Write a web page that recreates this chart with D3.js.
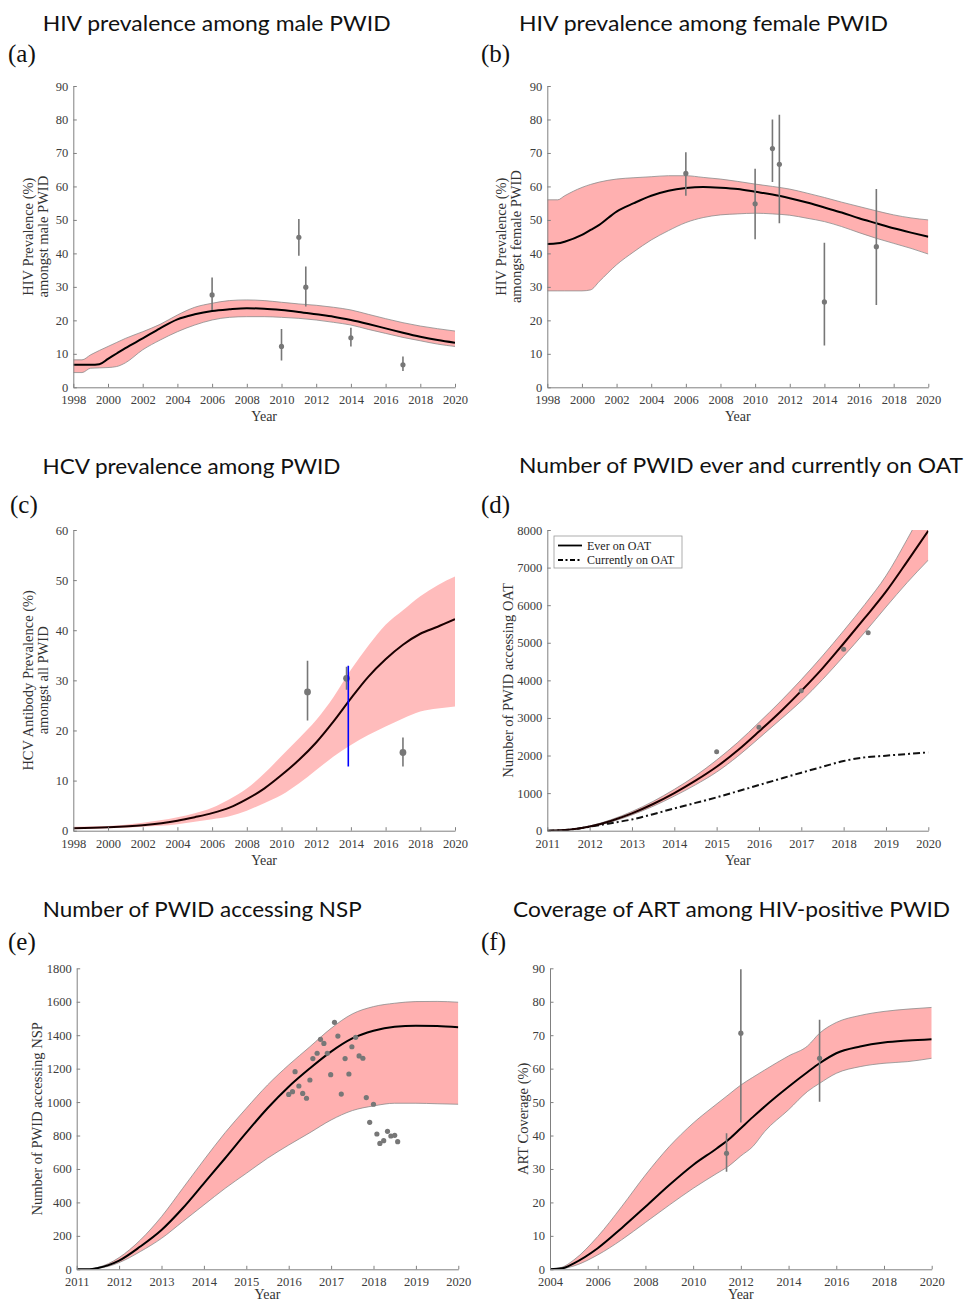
<!DOCTYPE html>
<html><head><meta charset="utf-8">
<script src="https://cdn.jsdelivr.net/npm/d3@7"></script>
<style>body{margin:0;background:#fff}
.tick text{font-family:'Liberation Serif','Times New Roman',serif !important;font-size:12.5px !important;fill:#3c3c3c}
</style>
</head><body><svg id="chart" width="967" height="1303"></svg>
<script>
// ---------- (a) HIV prevalence among male PWID ----------
const yearsA = [1998,1998.5,1999,1999.5,2000,2000.5,2001,2002,2003,2004,2005,2006,2007,2008,2009,2010,2011,2012,2013,2014,2015,2016,2017,2018,2019,2020];
const maleMid = [6.7,6.7,6.7,6.9,8.5,10.1,11.7,14.6,17.6,20.3,21.8,22.8,23.3,23.6,23.5,23.1,22.5,21.8,21.1,20.1,18.9,17.6,16.3,15.1,14.1,13.3];
const maleHi  = [8.2,8.2,9.7,11.0,12.2,13.4,14.6,16.6,18.8,21.6,23.9,25.1,25.9,26.1,25.9,25.4,24.9,24.5,23.9,23.1,21.8,20.5,19.3,18.3,17.5,16.8];
const maleLo  = [4.4,4.4,5.7,5.8,5.9,6.2,7.3,11.2,14.1,16.6,18.6,20.1,20.9,21.1,21.1,20.9,20.6,20.1,19.4,18.6,17.3,16.1,14.9,13.9,12.9,12.2];
const maleObsYear = [2006,2010,2011,2011.4,2014,2017];
const maleObsVal  = [27.6,12.2,44.8,29.9,14.8,6.7];
const maleObsLo   = [23.1,8.0,39.3,24.1,12.2,4.9];
const maleObsHi   = [32.8,17.4,50.3,36.1,17.8,9.2];

// ---------- (b) HIV prevalence among female PWID ----------
const yearsB = [1998,1998.6,1999,2000,2000.5,2001,2002,2003,2004,2005,2006,2007,2008,2009,2010,2011,2012,2013,2014,2015,2016,2017,2018,2019,2020];
const femaleMid = [42.8,43.0,43.5,45.5,47.0,48.5,52.5,55.0,57.2,58.7,59.5,59.8,59.6,59.2,58.4,57.6,56.5,55.2,53.7,52.2,50.5,49.0,47.5,46.2,45.0];
const femaleHi  = [56.0,56.0,57.2,59.7,60.6,61.3,62.2,62.6,62.9,63.2,63.2,62.7,62.2,61.5,60.7,60.0,59.2,58.0,56.7,55.3,54.0,52.7,51.5,50.6,50.0];
const femaleLo  = [28.8,28.8,28.8,28.8,29.1,31.6,36.6,40.5,44.0,46.8,49.2,50.7,51.5,51.8,52.0,51.8,51.4,50.5,49.5,48.0,46.2,44.5,43.0,41.5,39.8];
const femaleObsYear = [2006,2010,2011,2011.4,2014,2017];
const femaleObsVal  = [63.9,54.8,71.3,66.6,25.5,42.0];
const femaleObsLo   = [57.2,44.2,61.3,49.0,12.5,24.6];
const femaleObsHi   = [70.2,65.3,80.0,81.4,43.2,59.2];

// ---------- (c) HCV prevalence among PWID ----------
const yearsC = [1998,2000,2002,2004,2005,2006,2007,2008,2009,2010,2011,2012,2013,2014,2015,2016,2017,2018,2019,2020];
const hcvMid = [0.47,0.67,1.1,2.0,2.7,3.5,4.6,6.3,8.4,11.1,14.1,17.6,21.8,26.4,30.7,34.2,37.1,39.3,40.7,42.2];
const hcvHi  = [0.8,0.93,1.6,2.7,3.5,4.6,6.3,8.4,11.4,14.9,18.4,22.1,26.7,32.1,36.9,41.1,44.0,46.8,49.0,50.7];
const hcvLo  = [0.27,0.47,0.8,1.3,1.8,2.3,2.9,4.0,5.5,7.1,9.4,12.1,14.8,17.1,19.1,20.8,22.4,23.8,24.4,24.8];
const hcvObsYear = [2011.5,2013.75,2017];
const hcvObsVal  = [27.7,30.4,15.6];
const hcvObsLo   = [22.0,28.1,12.8];
const hcvObsHi   = [33.9,32.7,18.6];
const hcvBlueYear = 2013.85;
const hcvBlueRange = [12.8,32.9];

// ---------- (d) Number of PWID ever and currently on OAT ----------
const yearsD = [2011,2011.5,2012,2012.5,2013,2013.5,2014,2014.5,2015,2015.5,2016,2016.5,2017,2017.5,2018,2018.5,2019,2019.5,2020];
const everMid = [0,25,110,260,460,710,1000,1330,1700,2140,2640,3160,3720,4320,4980,5660,6360,7160,7980];
const everHi  = [0,28,125,290,510,780,1100,1460,1880,2350,2880,3430,4020,4650,5320,6020,6780,7750,8800];
const everLo  = [0,22,95,230,420,650,920,1220,1560,1980,2460,2950,3450,4020,4640,5280,5950,6600,7200];
const currentMid = [0,25,105,200,300,440,594,740,887,1050,1215,1380,1543,1700,1854,1951,1996,2040,2084];
const oatObsYear = [2015,2016,2017,2018,2018.58];
const oatObsVal  = [2102,2750,3725,4825,5268];
const oatLegend = ["Ever on OAT","Currently on OAT"];

// ---------- (e) Number of PWID accessing NSP ----------
const yearsE = [2011,2011.3,2011.5,2011.75,2012,2012.5,2013,2013.5,2014,2014.5,2015,2015.5,2016,2016.5,2017,2017.5,2018,2018.5,2019,2019.5,2020];
const nspMid = [0,0,8,25,52,136,235,365,514,664,817,963,1092,1202,1302,1381,1427,1451,1457,1455,1447];
const nspHi  = [0,0,11,34,70,175,315,484,654,817,963,1102,1222,1331,1441,1527,1571,1591,1601,1602,1597];
const nspLo  = [0,0,6,18,40,106,185,285,385,484,574,664,743,817,893,949,977,993,993,990,987];
const nspObsYear = [2016.0,2016.09,2016.15,2016.24,2016.33,2016.42,2016.5,2016.57,2016.67,2016.75,2016.83,2016.91,2016.99,2017.08,2017.16,2017.24,2017.33,2017.42,2017.49,2017.58,2017.66,2017.75,2017.83,2018.0,2017.91,2018.08,2018.15,2018.24,2018.33,2018.41,2018.5,2018.57];
const nspObsVal  = [1046,1062,1182,1096,1052,1023,1132,1260,1292,1375,1351,1292,1164,1477,1395,1048,1260,1168,1331,1387,1276,1262,1027,987,879,809,753,769,825,797,801,763];

// ---------- (f) Coverage of ART among HIV-positive PWID ----------
const yearsF = [2004,2004.5,2005,2006,2007,2008,2009,2010,2011,2011.5,2012,2012.5,2013,2014,2014.8,2015.3,2016,2017,2018,2019,2020];
const artMid = [0,0.3,1.8,6.3,12.3,18.7,25.2,31.2,36.2,38.9,42.2,45.5,48.7,54.6,59.0,61.6,64.6,66.6,67.8,68.4,68.8];
const artHi  = [0,0.6,2.8,9.8,18.7,28.2,36.7,43.7,49.5,52.3,55.1,57.4,59.6,63.8,66.8,70.6,73.8,75.9,77.1,77.8,78.3];
const artLo  = [0,0.2,1.0,4.3,8.8,14.0,19.2,24.2,28.7,30.9,33.9,36.7,41.2,47.7,53.2,55.6,58.6,60.6,61.6,62.1,63.1];
const artObsYear = [2011.4,2012,2015.3];
const artObsVal  = [34.7,70.6,63.1];
const artObsLo   = [29.2,43.9,50.1];
const artObsHi   = [40.7,89.7,74.6];

// ---------- tick labels / titles ----------
const ticks1998 = d3.range(1998, 2021, 2);
const ticks2011 = d3.range(2011, 2021, 1);
const ticks2004 = d3.range(2004, 2021, 2);
const yTicks90 = d3.range(0, 91, 10);
const yTicks60 = d3.range(0, 61, 10);
const yTicks8000 = d3.range(0, 8001, 1000);
const yTicks1800 = d3.range(0, 1801, 200);
const titles = ["HIV prevalence among male PWID","HIV prevalence among female PWID","HCV prevalence among PWID","Number of PWID ever and currently on OAT","Number of PWID accessing NSP","Coverage of ART among HIV-positive PWID"];
const letters = ["(a)","(b)","(c)","(d)","(e)","(f)"];

const svg = d3.select('#chart');
const SERIF = "'Liberation Serif','Times New Roman',serif";
const BAND = '#ffb0b0';
const GREY = '#777777';

function drawPanel(c){
  const g = svg.append('g');
  const x = d3.scaleLinear().domain(c.xDomain).range([c.left, c.right]);
  const y = d3.scaleLinear().domain(c.yDomain).range([c.bottom, c.top]);
  const clipId = 'clip' + c.id;
  svg.append('clipPath').attr('id', clipId).append('rect')
    .attr('x', c.left).attr('y', c.top).attr('width', c.right - c.left).attr('height', c.bottom - c.top);
  const pg = g.append('g').attr('clip-path', `url(#${clipId})`);
  const idx = d3.range(c.years.length);
  const area = d3.area().x(i => x(c.years[i])).y0(i => y(c.lo[i])).y1(i => y(c.hi[i])).curve(d3.curveMonotoneX);
  pg.append('path').datum(idx).attr('d', area).attr('fill', c.bandColor || BAND).attr('stroke', 'none');
  const lineOf = arr => d3.line().x(i => x(c.years[i])).y(i => y(arr[i])).curve(d3.curveMonotoneX);
  if (c.edges) {
    [c.hi, c.lo].forEach(arr => pg.append('path').datum(idx).attr('d', lineOf(arr))
      .attr('fill', 'none').attr('stroke', '#8c8c8c').attr('stroke-width', 0.8));
  }
  if (c.extra) {
    pg.append('path').datum(idx).attr('d', lineOf(c.extra)).attr('fill', 'none')
      .attr('stroke', '#111').attr('stroke-width', 2).attr('stroke-dasharray', '7,3,2,3');
  }
  pg.append('path').datum(idx).attr('d', lineOf(c.mid)).attr('fill', 'none')
    .attr('stroke', c.midColor || '#000').attr('stroke-width', 2);
  if (c.obsLo) {
    c.obsYear.forEach((yr, i) => {
      pg.append('line').attr('x1', x(yr)).attr('x2', x(yr)).attr('y1', y(c.obsLo[i])).attr('y2', y(c.obsHi[i]))
        .attr('stroke', GREY).attr('stroke-width', 1.6);
    });
  }
  c.obsYear.forEach((yr, i) => {
    pg.append('circle').attr('cx', x(yr)).attr('cy', y(c.obsVal[i])).attr('r', c.r || 2.6).attr('fill', GREY);
  });
  if (c.blue) {
    pg.append('line').attr('x1', x(c.blue.year)).attr('x2', x(c.blue.year))
      .attr('y1', y(c.blue.range[0])).attr('y2', y(c.blue.range[1]))
      .attr('stroke', '#0000ff').attr('stroke-width', 1.6);
  }
  // axes
  const xa = d3.axisBottom(x).tickValues(c.xTicks).tickFormat(d3.format('d')).tickSizeInner(-3.5).tickSizeOuter(0).tickPadding(8);
  const ya = d3.axisLeft(y).tickValues(c.yTicks).tickFormat(d3.format('d')).tickSizeInner(-3.5).tickSizeOuter(0).tickPadding(5);
  const gx = g.append('g').attr('transform', `translate(0,${c.bottom})`).call(xa);
  const gy = g.append('g').attr('transform', `translate(${c.left},0)`).call(ya);
  [gx, gy].forEach(a => {
    a.attr('font-family', SERIF).attr('font-size', 12.5);
    a.select('.domain').attr('stroke', '#808080').attr('stroke-width', 1);
    a.selectAll('.tick line').attr('stroke', '#808080');
  });
  // axis titles
  g.append('text').attr('x', (c.left + c.right) / 2).attr('y', c.bottom + c.yearOff).attr('text-anchor', 'middle')
    .attr('font-family', SERIF).attr('font-size', 14).attr('fill', '#333').text('Year');
  const yc = (c.top + c.bottom) / 2;
  c.yLabel.forEach((t, k) => {
    g.append('text').attr('transform', `translate(${c.yLabelX[k]},${yc}) rotate(-90)`).attr('dy', '0.35em')
      .attr('text-anchor', 'middle').attr('font-family', SERIF).attr('font-size', 14.5).attr('fill', '#333').text(t);
  });
  // panel title and letter
  g.append('text').attr('x', c.titleX).attr('y', c.titleY).attr('font-family', "Lato,'Open Sans',sans-serif")
    .attr('font-size', 21.5).attr('fill', '#111').attr('textLength', c.titleW).attr('lengthAdjust', 'spacingAndGlyphs').text(c.title);
  g.append('text').attr('x', c.letterX).attr('y', c.letterY).attr('font-family', SERIF)
    .attr('font-size', 25).attr('fill', '#111').text(c.letter);
  return {g, x, y};
}

drawPanel({id:'a', left:73.3, right:455, top:86, bottom:387.3, xDomain:[1998,2020], yDomain:[0,90], yearOff:34,
  years:yearsA, mid:maleMid, hi:maleHi, lo:maleLo, edges:true,
  obsYear:maleObsYear, obsVal:maleObsVal, obsLo:maleObsLo, obsHi:maleObsHi,
  xTicks:ticks1998, yTicks:yTicks90, yLabel:["HIV Prevalence (%)","amongst male PWID"], yLabelX:[27.5,43],
  title:titles[0], titleX:42.7, titleY:30.5, titleW:348, letter:letters[0], letterX:8, letterY:62});

drawPanel({id:'b', left:547.3, right:928.3, top:86, bottom:387.3, xDomain:[1998,2020], yDomain:[0,90], yearOff:34,
  years:yearsB, mid:femaleMid, hi:femaleHi, lo:femaleLo, edges:true,
  obsYear:femaleObsYear, obsVal:femaleObsVal, obsLo:femaleObsLo, obsHi:femaleObsHi,
  xTicks:ticks1998, yTicks:yTicks90, yLabel:["HIV Prevalence (%)","amongst female PWID"], yLabelX:[500.5,516],
  title:titles[1], titleX:519, titleY:30.5, titleW:369, letter:letters[1], letterX:481, letterY:62});

drawPanel({id:'c', left:73.3, right:455, top:530, bottom:830.7, xDomain:[1998,2020], yDomain:[0,60], yearOff:34,
  years:yearsC, mid:hcvMid, hi:hcvHi, lo:hcvLo, edges:false, bandColor:'#ffbcbc', midColor:'#1a0000',
  obsYear:hcvObsYear, obsVal:hcvObsVal, obsLo:hcvObsLo, obsHi:hcvObsHi, r:3.4,
  blue:{year:hcvBlueYear, range:hcvBlueRange},
  xTicks:ticks1998, yTicks:yTicks60, yLabel:["HCV Antibody Prevalence (%)","amongst all PWID"], yLabelX:[27.5,43],
  title:titles[2], titleX:42.5, titleY:474, titleW:298, letter:letters[2], letterX:10, letterY:513});

const pd = drawPanel({id:'d', left:547.3, right:928.3, top:530, bottom:830.7, xDomain:[2011,2020], yDomain:[0,8000], yearOff:34,
  years:yearsD, mid:everMid, hi:everHi, lo:everLo, edges:true, extra:currentMid, midColor:'#1a0000',
  obsYear:oatObsYear, obsVal:oatObsVal, r:2.5,
  xTicks:ticks2011, yTicks:yTicks8000, yLabel:["Number of PWID accessing OAT"], yLabelX:[507.5],
  title:titles[3], titleX:519, titleY:473, titleW:444, letter:letters[3], letterX:481, letterY:513});

// legend for (d)
const lg = pd.g.append('g');
lg.append('rect').attr('x', 554).attr('y', 536).attr('width', 128).attr('height', 32)
  .attr('fill', '#fff').attr('stroke', '#9a9a9a').attr('stroke-width', 0.8);
oatLegend.forEach((t, k) => {
  const yy = 545.5 + k * 14.5;
  lg.append('line').attr('x1', 558).attr('x2', 582).attr('y1', yy).attr('y2', yy)
    .attr('stroke', '#000').attr('stroke-width', 1.8).attr('stroke-dasharray', k ? '5,2.5,2,2.5' : null);
  lg.append('text').attr('x', 587).attr('y', yy + 4).attr('font-family', SERIF).attr('font-size', 12)
    .attr('fill', '#222').text(t);
});

drawPanel({id:'e', left:76.7, right:458.3, top:968.3, bottom:1269.3, xDomain:[2011,2020], yDomain:[0,1800], yearOff:30,
  years:yearsE, mid:nspMid, hi:nspHi, lo:nspLo, edges:true,
  obsYear:nspObsYear, obsVal:nspObsVal, r:2.6,
  xTicks:ticks2011, yTicks:yTicks1800, yLabel:["Number of PWID accessing NSP"], yLabelX:[36.5],
  title:titles[4], titleX:42.7, titleY:917, titleW:319, letter:letters[4], letterX:8, letterY:950});

drawPanel({id:'f', left:550, right:931.7, top:968.3, bottom:1269.3, xDomain:[2004,2020], yDomain:[0,90], yearOff:30,
  years:yearsF, mid:artMid, hi:artHi, lo:artLo, edges:true,
  obsYear:artObsYear, obsVal:artObsVal, obsLo:artObsLo, obsHi:artObsHi,
  xTicks:ticks2004, yTicks:yTicks90, yLabel:["ART Coverage (%)"], yLabelX:[523],
  title:titles[5], titleX:513, titleY:917, titleW:437, letter:letters[5], letterX:481, letterY:950});
</script></body></html>
